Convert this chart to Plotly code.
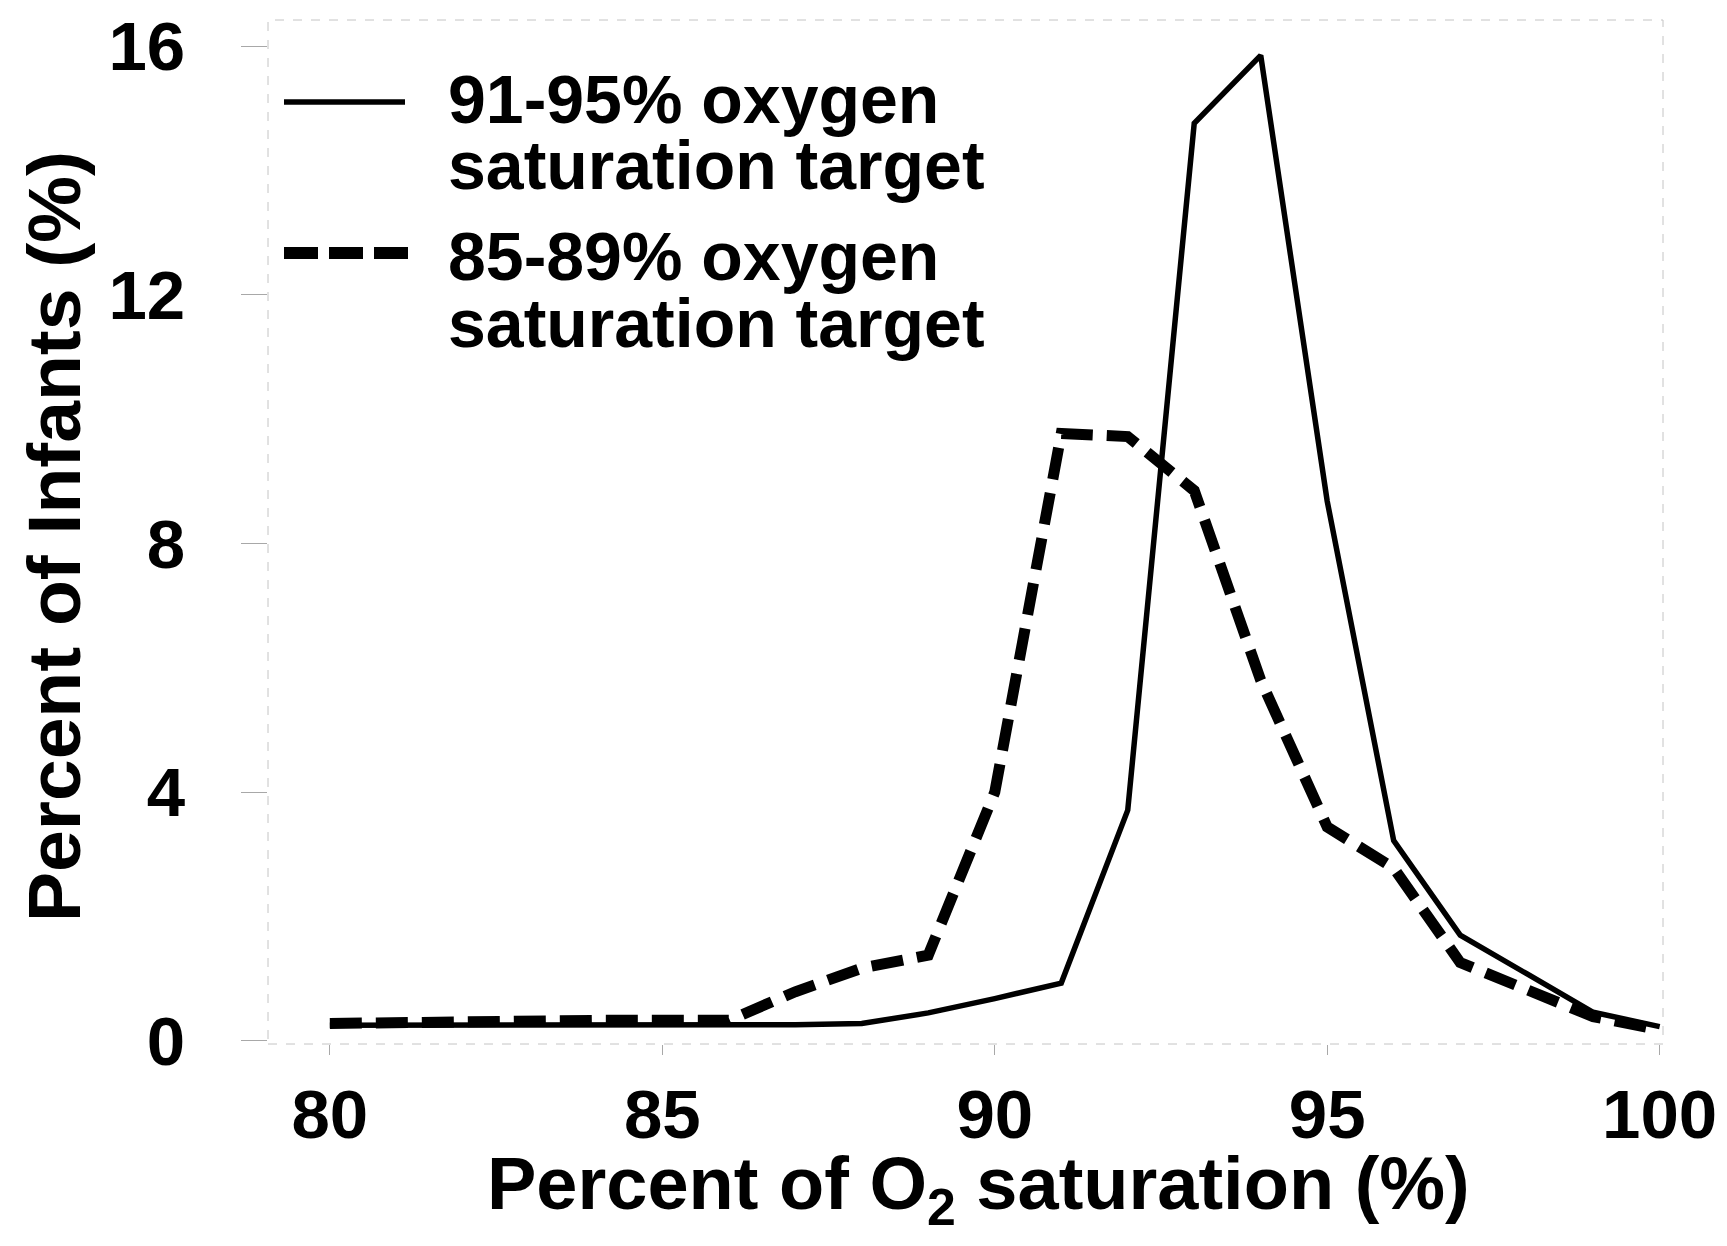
import plotly.graph_objects as go

# ---- data ----
saturation = [80, 81, 82, 83, 84, 85, 86, 87, 88, 89, 90,
              91, 92, 93, 94, 95, 96, 97, 98, 99, 100]
target_91_95 = [0.25, 0.25, 0.25, 0.25, 0.25, 0.25, 0.25, 0.26, 0.28, 0.45, 0.68,
                0.93, 3.71, 14.76, 15.85, 8.68, 3.22, 1.70, 1.08, 0.46, 0.23]
target_85_89 = [0.28, 0.30, 0.31, 0.32, 0.33, 0.33, 0.33, 0.79, 1.17, 1.38, 4.00,
                9.77, 9.72, 8.85, 5.80, 3.44, 2.78, 1.26, 0.83, 0.39, 0.18]
x_ticks = [80, 85, 90, 95, 100]
y_ticks = [0, 4, 8, 12, 16]
series_names = ["91-95% oxygen", "85-89% oxygen"]
series_sub = "saturation target"

FONT = "Liberation Sans"

fig = go.Figure()
fig.add_trace(go.Scatter(x=saturation, y=target_91_95, mode="lines",
                         line=dict(color="black", width=5.5),
                         name=series_names[0] + " " + series_sub, showlegend=False))
fig.add_trace(go.Scatter(x=saturation, y=target_85_89, mode="lines",
                         line=dict(color="black", width=11, dash="32px,14px"),
                         name=series_names[1] + " " + series_sub, showlegend=False))

# page body has an 8px margin, so the figure is drawn 8px smaller and
# everything is placed relative to that offset
OFF = 8
W, H = 1727 - OFF, 1246 - OFF
L, T = 268 - OFF, 20 - OFF
R = W - (1663 - OFF)
B = H - (1044 - OFF)
pw, ph = W - L - R, H - T - B


def px(xp):
    return (xp - OFF - L) / pw


def py(yp):
    return (H - B - (yp - OFF)) / ph


shapes = [
    # faint scanned frame
    dict(type="rect", xref="paper", yref="paper", x0=0, x1=1, y0=0, y1=1,
         line=dict(color="#c4c4c4", width=1, dash="dash"), layer="below"),
    # legend samples
    dict(type="line", xref="paper", yref="paper", x0=px(284), x1=px(405),
         y0=py(102), y1=py(102), line=dict(color="black", width=5.5)),
    dict(type="line", xref="paper", yref="paper", x0=px(284), x1=px(408),
         y0=py(253), y1=py(253), line=dict(color="black", width=12, dash="34px,11px")),
]

tfont = dict(family=FONT, size=68, color="black", weight="bold")
annotations = [
    dict(text=series_names[0], x=px(446), y=py(99), xref="paper", yref="paper",
         xanchor="left", yanchor="middle", showarrow=False, font=tfont),
    dict(text=series_sub, x=px(446), y=py(165), xref="paper", yref="paper",
         xanchor="left", yanchor="middle", showarrow=False, font=tfont),
    dict(text=series_names[1], x=px(446), y=py(256), xref="paper", yref="paper",
         xanchor="left", yanchor="middle", showarrow=False, font=tfont),
    dict(text=series_sub, x=px(446), y=py(323), xref="paper", yref="paper",
         xanchor="left", yanchor="middle", showarrow=False, font=tfont),
    # axis titles
    dict(text="Percent of Infants (%)", x=px(54), y=py(537), xref="paper", yref="paper",
         xanchor="center", yanchor="middle", textangle=-90, showarrow=False,
         font=dict(family=FONT, size=75, color="black", weight="bold")),
    dict(text="Percent of O<sub>2</sub> saturation (%)", x=px(978), y=py(1189),
         xref="paper", yref="paper", xanchor="center", yanchor="middle", showarrow=False,
         font=dict(family=FONT, size=74, color="black", weight="bold")),
]

fig.update_layout(
    width=W, height=H, autosize=False,
    margin=dict(l=L, r=R, t=T, b=B, pad=0, autoexpand=False),
    paper_bgcolor="white", plot_bgcolor="white",
    shapes=shapes, annotations=annotations,
    xaxis=dict(range=[79.07, 100.05], tickmode="array", tickvals=x_ticks,
               ticktext=[str(v) for v in x_ticks], automargin=False,
               tickfont=dict(family=FONT, size=69, color="black", weight="bold"),
               ticks="outside", ticklen=10, tickcolor="#a8a8a8", tickwidth=1,
               showgrid=False, zeroline=False, showline=False),
    yaxis=dict(range=[-0.05, 16.42], tickmode="array", tickvals=y_ticks,
               ticktext=[str(v) for v in y_ticks], automargin=False,
               tickfont=dict(family=FONT, size=69, color="black", weight="bold"),
               ticks="outside", ticklen=26, tickcolor="#a8a8a8", tickwidth=1,
               ticklabelstandoff=42,
               showgrid=False, zeroline=False, showline=False),
)

fig.write_html("out.html")
